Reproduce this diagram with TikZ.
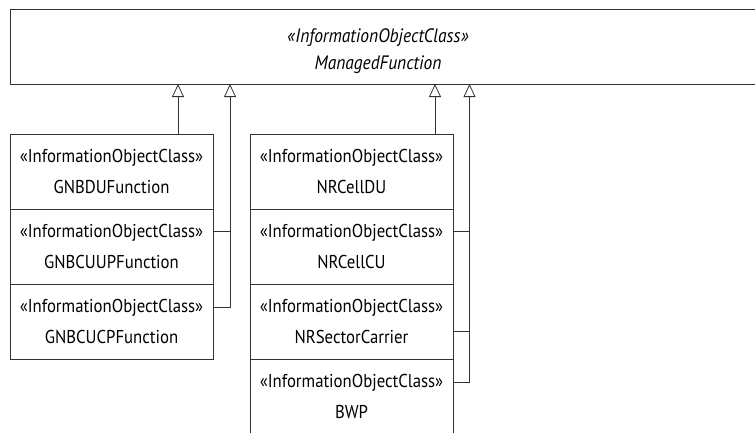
\documentclass[tikz,border=0pt]{standalone}
\usepackage{fontspec}
\setmainfont{PT Sans}[FakeStretch=0.9]
\usetikzlibrary{arrows.meta}
\begin{document}
\begin{tikzpicture}[x=1pt,y=-1pt,
  cls/.style={draw=black!80,line width=0.9pt,rectangle,minimum width=203pt,minimum height=75pt,
    inner sep=0pt,align=center,font=\fontsize{18.6}{31}\selectfont},
  top/.style={draw=black!80,line width=0.9pt,rectangle,minimum width=750pt,minimum height=75pt,inner sep=0pt},
  toptext/.style={inner sep=0pt,align=center,font=\fontsize{19.4}{27}\selectfont\itshape},
  conn/.style={draw=black!80,line width=0.8pt},
  inh/.style={conn,-{Triangle[open,width=12pt,length=13pt]}}]
\useasboundingbox (0,0) rectangle (755,432);
\begin{scope}
\clip (0,0) rectangle (755,432);
\node[top] (mf) at (385,46.5) {};
\node[toptext] (mft) at (378,51) {«InformationObjectClass»\\ManagedFunction};
\node[cls] (gdu)   at (111.5,171.5) {«InformationObjectClass»\\GNBDUFunction};
\node[cls] (gcuup) at (111.5,246.5) {«InformationObjectClass»\\GNBCUUPFunction};
\node[cls] (gcucp) at (111.5,321.5) {«InformationObjectClass»\\GNBCUCPFunction};
\node[cls] (ndu)   at (351.5,171.5) {«InformationObjectClass»\\NRCellDU};
\node[cls] (ncu)   at (351.5,246.5) {«InformationObjectClass»\\NRCellCU};
\node[cls] (nsc)   at (351.5,321.5) {«InformationObjectClass»\\NRSectorCarrier};
\node[cls] (bwp)   at (351.5,396.5) {«InformationObjectClass»\\BWP};
\end{scope}
\coordinate (ta) at (178,84);
\coordinate (tb) at (230,84);
\coordinate (tc) at (435,84);
\coordinate (td) at (469.5,84);
% left group
\draw[inh] (gdu.north -| ta) -- (ta);
\draw[inh] ([yshift=-24pt]gcucp.north east) -| (tb);
\draw[conn] ([yshift=-23pt]gcuup.north east) -- ([yshift=-23pt]gcuup.north east -| tb);
% right group
\draw[inh] (ndu.north -| tc) -- (tc);
\draw[inh] ([yshift=-24pt]bwp.north east) -| (td);
\draw[conn] ([yshift=-23pt]ncu.north east) -- ([yshift=-23pt]ncu.north east -| td);
\draw[conn] ([yshift=-48pt]nsc.north east) -- ([yshift=-48pt]nsc.north east -| td);
\end{tikzpicture}
\end{document}
